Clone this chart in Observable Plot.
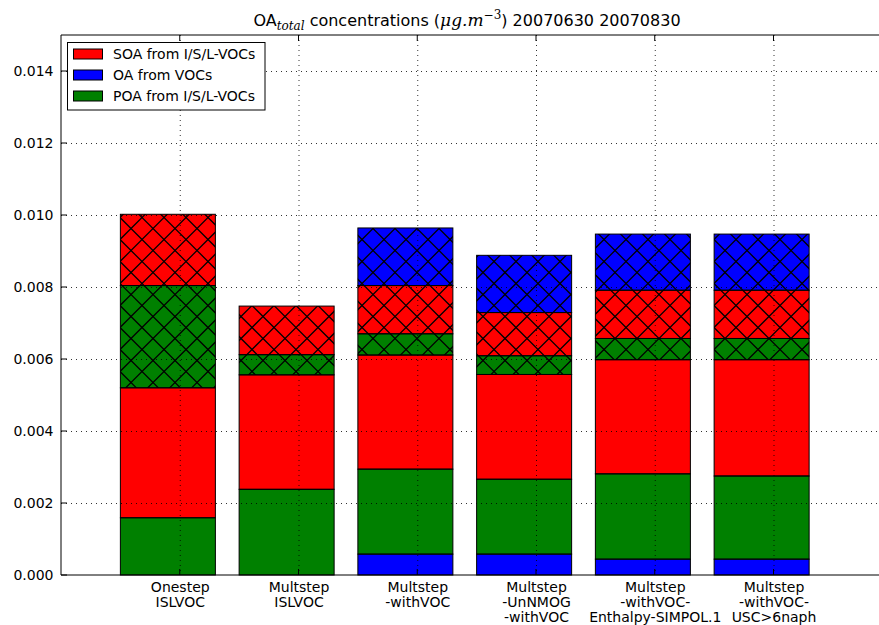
<!DOCTYPE html>
<html><head><meta charset="utf-8">
<script src="https://cdn.jsdelivr.net/npm/d3@7"></script>
<script src="https://cdn.jsdelivr.net/npm/@observablehq/plot@0.6"></script>
<style>html,body{margin:0;padding:0;background:#fff;overflow:hidden}</style>
</head><body><div id="chart"></div>
<script>
// ---- data ----
const categories = [
  "Onestep\nISLVOC",
  "Multstep\nISLVOC",
  "Multstep\n-withVOC",
  "Multstep\n-UnNMOG\n-withVOC",
  "Multstep\n-withVOC-\nEnthalpy-SIMPOL.1",
  "Multstep\n-withVOC-\nUSC>6naph"
];
// un-hatched stack (bottom)
const oaVOC        = [0,       0,       0.00058, 0.00058, 0.00044, 0.00044];
const poa          = [0.00159, 0.00238, 0.00236, 0.00208, 0.00237, 0.00231];
const soa          = [0.00361, 0.00318, 0.00317, 0.00291, 0.00317, 0.00323];
// hatched stack (top)
const poaHatched   = [0.00284, 0.00056, 0.00059, 0.00052, 0.00059, 0.00059];
const soaHatched   = [0.00198, 0.00135, 0.00134, 0.00120, 0.00134, 0.00134];
const oaVOCHatched = [0,       0,       0.00160, 0.00159, 0.00156, 0.00156];

const yTicks = [0, 0.002, 0.004, 0.006, 0.008, 0.010, 0.012, 0.014];
const legendNames = ["SOA from I/S/L-VOCs", "OA from VOCs", "POA from I/S/L-VOCs"];

// ---- styles ----
const RED = "#ff0000", BLUE = "#0000ff", GREEN = "#008000";
const legendColors = [RED, BLUE, GREEN];
const layers = [
  {values: oaVOC, color: BLUE, hatch: false},
  {values: poa, color: GREEN, hatch: false},
  {values: soa, color: RED, hatch: false},
  {values: poaHatched, color: GREEN, hatch: true},
  {values: soaHatched, color: RED, hatch: true},
  {values: oaVOCHatched, color: BLUE, hatch: true}
];
const barWidth = 0.8;
const xTicks = categories.map((_, i) => i + 0.5);

const rows = [];
categories.forEach((name, i) => {
  let base = 0;
  for (const L of layers) {
    const v = L.values[i];
    if (v > 0) rows.push({i, y1: base, y2: base + v, color: L.color, hatch: L.hatch});
    base += v;
  }
});
const hatchedRows = rows.filter(d => d.hatch);

// cross-hatch ("x") drawn as clipped diagonal lines inside each hatched segment
function hatchMark(index, scales, values, dims) {
  const {x, y} = scales;
  const S = 22, cA = 9.5, cB = 7.5;
  const g = d3.create("svg:g");
  const defs = g.append("defs");
  hatchedRows.forEach((d, k) => {
    const x0 = x(d.i), x1 = x(d.i + barWidth), yT = y(d.y2), yB = y(d.y1);
    const id = "hclip-" + k;
    defs.append("clipPath").attr("id", id).append("rect")
      .attr("x", x0).attr("y", yT).attr("width", x1 - x0).attr("height", yB - yT);
    const ext = 30;
    let pA = "", pB = "";
    for (let c = cA + S * Math.floor((yT - x1 - cA) / S) - S; c <= yB - x0 + S; c += S) {
      pA += `M${x0 - ext},${x0 - ext + c}L${x1 + ext},${x1 + ext + c}`;
    }
    for (let c = cB + S * Math.floor((yT + x0 - cB) / S) - S; c <= yB + x1 + S; c += S) {
      pB += `M${x0 - ext},${c - x0 + ext}L${x1 + ext},${c - x1 - ext}`;
    }
    const cg = g.append("g").attr("clip-path", `url(#${id})`)
      .attr("stroke", "black").attr("stroke-width", 1.25).attr("fill", "none");
    cg.append("path").attr("d", pA);
    cg.append("path").attr("d", pB);
  });
  return g.node();
}

function frameTicksMark(index, scales, values, dims) {
  const {x, y} = scales;
  const L = dims.marginLeft, T = dims.marginTop, B = dims.height - dims.marginBottom, R = dims.width;
  const g = d3.create("svg:g").attr("stroke", "black").attr("stroke-width", 1).attr("fill", "none");
  for (const t of yTicks) g.append("line").attr("x1", L).attr("x2", L + 6).attr("y1", y(t)).attr("y2", y(t));
  for (const t of xTicks) {
    g.append("line").attr("x1", x(t)).attr("x2", x(t)).attr("y1", T).attr("y2", T + 6);
    g.append("line").attr("x1", x(t)).attr("x2", x(t)).attr("y1", B).attr("y2", B - 6);
  }
  g.append("path").attr("d", `M${R},${T}H${L}V${B}H${R}`);
  return g.node();
}

function titleMark(index, scales, values, dims) {
  const cx = (dims.marginLeft + dims.width) / 2 - 3;
  const t = d3.create("svg:text").attr("x", cx).attr("y", 26).attr("text-anchor", "middle")
    .attr("font-size", 16).attr("fill", "black").attr("font-family", "DejaVu Sans");
  t.append("tspan").text("OA");
  t.append("tspan").attr("dy", 4).attr("font-size", 12).attr("font-style", "italic").attr("font-family", "DejaVu Serif").text("total");
  t.append("tspan").attr("dy", -4).text(" concentrations (");
  t.append("tspan").attr("font-style", "italic").attr("font-family", "DejaVu Serif").attr("font-size", 17).text("μg.m");
  t.append("tspan").attr("dy", -7).attr("font-size", 12).attr("font-family", "DejaVu Serif").text("−3");
  t.append("tspan").attr("dy", 7).text(") 20070630 20070830");
  return t.node();
}

function legendMark() {
  const g = d3.create("svg:g").attr("font-family", "DejaVu Sans").attr("font-size", 14).attr("text-anchor", "start");
  g.append("rect").attr("x", 67.5).attr("y", 42.5).attr("width", 197.5).attr("height", 67.5)
    .attr("fill", "white").attr("stroke", "black");
  legendNames.forEach((name, k) => {
    const cy = 54 + k * 21;
    g.append("rect").attr("x", 73.5).attr("y", cy - 5).attr("width", 29).attr("height", 10)
      .attr("fill", legendColors[k]).attr("stroke", "black");
    g.append("text").attr("x", 113).attr("y", cy).attr("dy", "0.36em").attr("text-anchor", "start")
      .attr("fill", "black").text(name);
  });
  return g.node();
}

const chart = Plot.plot({
  width: 879,
  height: 625,
  marginLeft: 61,
  marginRight: 0,
  marginTop: 35,
  marginBottom: 50,
  style: {fontFamily: "DejaVu Sans", fontSize: "14px", background: "white", color: "black"},
  x: {domain: [-0.5, (879 - 61) / 118.75 - 0.5], label: null},
  y: {domain: [0, 0.015], label: null},
  color: {type: "identity"},
  marks: [
    Plot.rect(rows, {x1: d => d.i, x2: d => d.i + barWidth, y1: "y1", y2: "y2", fill: "color"}),
    hatchMark,
    Plot.rect(rows, {x1: d => d.i, x2: d => d.i + barWidth, y1: "y1", y2: "y2", fill: "none", stroke: "black", strokeWidth: 1}),
    Plot.gridX(xTicks, {stroke: "black", strokeOpacity: 0.8, strokeDasharray: "1,4"}),
    Plot.gridY(yTicks.slice(1), {stroke: "black", strokeOpacity: 0.8, strokeDasharray: "1,4"}),
    Plot.axisY(yTicks, {tickSize: 0, tickPadding: 8, tickFormat: d3.format(".3f"), fontSize: 14}),
    Plot.axisX(xTicks, {tickSize: 0, tickPadding: 6, tickFormat: t => categories[Math.floor(t)], fontSize: 14, lineHeight: 1.07}),
    frameTicksMark,
    legendMark,
    titleMark
  ]
});
document.getElementById("chart").appendChild(chart);
</script>
</body></html>
